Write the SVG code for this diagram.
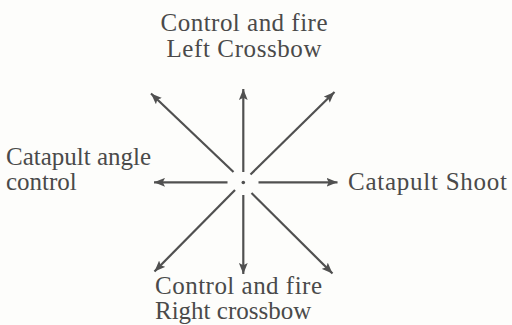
<svg xmlns="http://www.w3.org/2000/svg" width="512" height="325" viewBox="0 0 512 325">
<style>
text{font-family:"Liberation Serif","Times New Roman",serif;font-size:25px;fill:#4a4a4a}
.a{stroke:#505050;stroke-width:2.2;fill:none;marker-end:url(#ah)}
</style>
<defs>
<marker id="ah" viewBox="0 0 10 8" refX="10" refY="4" markerWidth="5" markerHeight="4" orient="auto" markerUnits="strokeWidth">
<path d="M0,0 L10,4 L0,8 L2,4 Z" fill="#505050"/>
</marker>
</defs>
<rect width="512" height="325" fill="#fdfdfb"/>
<g id="connectors">
<line class="a" x1="243.3" y1="172" x2="243.3" y2="89"/>
<line class="a" x1="233.5" y1="172" x2="151" y2="93.5"/>
<line class="a" x1="250.5" y1="174.5" x2="334.5" y2="92"/>
<line class="a" x1="227.5" y1="182.3" x2="154" y2="182.3"/>
<line class="a" x1="258.5" y1="182.3" x2="337.5" y2="182.3"/>
<line class="a" x1="235" y1="190" x2="154.5" y2="271.5"/>
<line class="a" x1="243.3" y1="195" x2="243.3" y2="274"/>
<line class="a" x1="251.5" y1="193" x2="332.5" y2="273.5"/>
</g>
<g id="center"><circle cx="243.3" cy="182.5" r="1.8" fill="#505050"/></g>
<g id="top"><text x="244" y="31" text-anchor="middle" textLength="167">Control and fire</text><text x="244" y="57" text-anchor="middle" textLength="155">Left Crossbow</text></g>
<g id="left"><text x="6" y="165">Catapult angle</text><text x="6" y="190">control</text></g>
<g id="right"><text x="348" y="190" textLength="159">Catapult Shoot</text></g>
<g id="bottom"><text x="155" y="294" textLength="167">Control and fire</text><text x="155" y="319">Right crossbow</text></g>
</svg>
